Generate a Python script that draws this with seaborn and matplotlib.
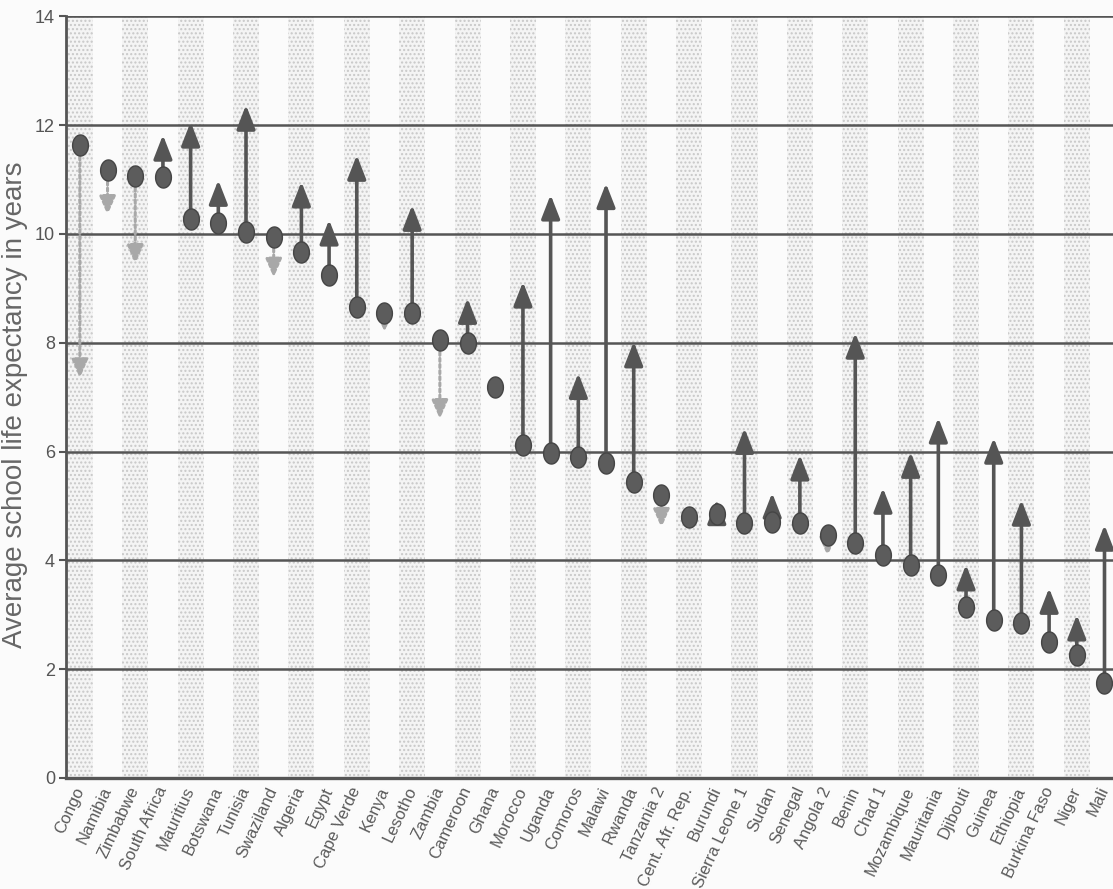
import matplotlib
matplotlib.use("Agg")
import matplotlib.pyplot as plt
import seaborn as sns
import numpy as np
import pandas as pd
from matplotlib.path import Path

# data
countries = ["Congo", "Namibia", "Zimbabwe", "South Africa", "Mauritius", "Botswana",
             "Tunisia", "Swaziland", "Algeria", "Egypt", "Cape Verde", "Kenya",
             "Lesotho", "Zambia", "Cameroon", "Ghana", "Morocco", "Uganda",
             "Comoros", "Malawi", "Rwanda", "Tanzania 2", "Cent. Afr. Rep.", "Burundi",
             "Sierra Leone 1", "Sudan", "Senegal", "Angola 2", "Benin", "Chad 1",
             "Mozambique", "Mauritania", "Djibouti", "Guinea", "Ethiopia",
             "Burkina Faso", "Niger", "Mali"]
start_years = [11.64, 11.18, 11.07, 11.05, 10.27, 10.2, 10.04, 9.95, 9.67, 9.25,
               8.66, 8.55, 8.55, 8.05, 8.0, 7.19, 6.12, 5.97, 5.9, 5.79,
               5.44, 5.2, 4.8, 4.85, 4.69, 4.7, 4.69, 4.47, 4.32, 4.1,
               3.92, 3.73, 3.15, 2.9, 2.85, 2.5, 2.26, 1.75]
end_years = [7.35, 10.35, 9.45, 11.82, 12.06, 10.99, 12.37, 9.2, 10.96, 10.26,
             11.45, 8.2, 10.53, 6.6, 8.82, 7.19, 9.12, 10.72, 7.44, 10.93,
             8.02, 4.6, 4.8, 5.12, 6.43, 5.24, 5.94, 4.08, 8.18, 5.33,
             5.99, 6.62, 3.92, 6.25, 5.11, 3.49, 3.0, 4.65]

df = pd.DataFrame({"country": countries, "start": start_years, "end": end_years})
df["pos"] = np.arange(len(df))

sns.set_style("white")
plt.rcParams["font.family"] = ["Liberation Sans", "DejaVu Sans"]
plt.rcParams["hatch.linewidth"] = 1.0

fig = plt.figure(figsize=(11.13, 8.89), dpi=100, facecolor="#fbfbfb")
ax = fig.add_axes([0.0593, 0.1249, 0.9455, 0.8567])
ax.set_facecolor("#fbfbfb")

n = len(df)
ax.set_xlim(-0.5, n - 0.5)
ax.set_ylim(0, 14)

# stippled bands on every other column
for i in range(0, n, 2):
    ax.axvspan(i - 0.47, i + 0.47, facecolor="#f4f4f4", edgecolor="#c8c8c8",
               hatch="....", linewidth=0, zorder=0)

# horizontal grid lines
for yv in range(2, 15, 2):
    ax.axhline(yv, color="#555555", lw=1.8 if yv < 14 else 2.6, zorder=1)

# arrows from start to end
for _, r in df.iterrows():
    if abs(r["end"] - r["start"]) < 0.05:
        continue
    if r["end"] > r["start"]:
        props = dict(arrowstyle="-|>,head_length=0.9,head_width=0.35",
                     color="#555555", lw=2.6, shrinkA=0, shrinkB=0,
                     mutation_scale=16)
    else:
        props = dict(arrowstyle="-|>,head_length=0.8,head_width=0.35",
                     color="#a8a8a8", lw=2.2, ls=(0, (1, 1)), shrinkA=0,
                     shrinkB=0, mutation_scale=14)
    ax.annotate("", xy=(r["pos"], r["end"]), xytext=(r["pos"], r["start"]),
                arrowprops=props, zorder=2)

# ellipse marker for starting values
t = np.linspace(0, 2 * np.pi, 40)
ellipse = Path(np.column_stack([0.75 * np.cos(t), np.sin(t)]), closed=True)
sns.scatterplot(data=df, x="pos", y="start", marker=ellipse, s=230,
                color="#5c5c5c", edgecolor="#454545", linewidth=1.0,
                zorder=3, ax=ax, legend=False)

# axes styling
ax.spines["right"].set_visible(False)
ax.spines["top"].set_visible(False)
ax.spines["left"].set_color("#555555")
ax.spines["left"].set_linewidth(2)
ax.spines["bottom"].set_color("#555555")
ax.spines["bottom"].set_linewidth(2.4)

ax.set_yticks(range(0, 15, 2))
ax.set_yticklabels([str(v) for v in range(0, 15, 2)], fontsize=13, color="#555555")
ax.set_xticks(df["pos"])
ax.set_xticklabels(df["country"], rotation=65, ha="right", va="center",
                   rotation_mode="anchor", fontsize=12, color="#5a5a5a")
ax.set_xticks(np.arange(-0.5, n, 1), minor=True)
ax.tick_params(axis="x", which="major", length=0, pad=7)
ax.tick_params(axis="x", which="minor", length=5, width=1.5, color="#555555",
               direction="out")
ax.tick_params(axis="y", length=5, width=1.5, color="#555555", direction="out",
               left=True, pad=3)

ax.set_xlabel("")
ax.set_ylabel("Average school life expectancy in years", fontsize=20,
              color="#666666")
ax.yaxis.set_label_coords(-0.036, 0.49)

fig.savefig("out.png", dpi=100, facecolor=fig.get_facecolor())
